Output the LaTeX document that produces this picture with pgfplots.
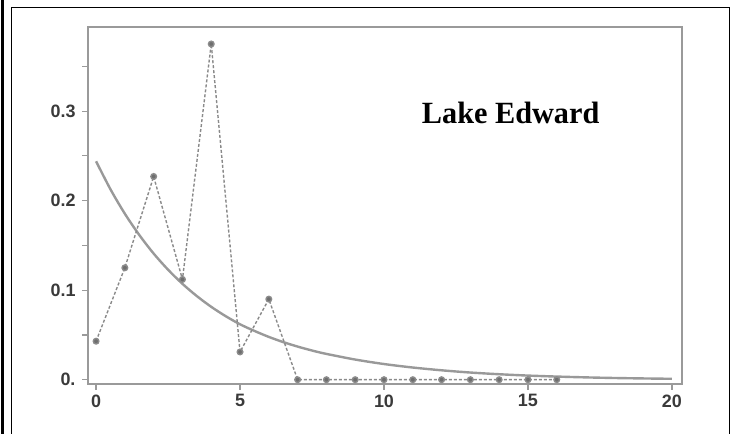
\documentclass[border=0pt]{standalone}
\usepackage{fontspec}
\setmainfont{Liberation Sans}
\newfontfamily\serifb{Liberation Serif}
\usepackage{pgfplots}
\pgfplotsset{compat=1.18}
\definecolor{axgray}{HTML}{9A9A9A}
\definecolor{curvegray}{HTML}{999999}
\definecolor{dotgray}{HTML}{8A8A8A}
\definecolor{markgray}{HTML}{6E6E6E}
\definecolor{labgray}{HTML}{3A3A3A}
\begin{document}
\begin{tikzpicture}[x=1bp,y=1bp]
\useasboundingbox (0,0) rectangle (734,434);
% frame
\draw[black,line width=2bp] (2.5,0) -- (2.5,434);
\draw[black,line width=1.6bp] (11.5,0) -- (11.5,426.5) -- (729.5,426.5) -- (729.5,0);
\begin{axis}[
  at={(88bp,50bp)}, anchor=south west,
  width=594bp, height=357bp, scale only axis,
  xmin=-0.28, xmax=20.35, ymin=-0.0048, ymax=0.394,
  axis line style={draw=axgray, line width=1.8bp},
  xtick={0,5,10,15,20},
  ytick={0,0.1,0.2,0.3},
  yticklabels={0.,0.1,0.2,0.3},
  minor ytick={0.05,0.15,0.25,0.35},
  tick pos=left,
  tick align=outside,
  major tick length=6bp,
  minor tick length=6bp,
  every tick/.style={draw=axgray, line width=1.2bp},
  /pgf/number format/assume math mode=true,
  tick label style={font=\fontsize{18}{18}\selectfont\bfseries, text=labgray},
  xticklabel style={yshift=-1bp},
  yticklabel style={xshift=-3bp},
  clip=false,
]
\addplot[curvegray, line width=2.4bp, smooth] coordinates {
 (0,0.2440) (0.5,0.2127) (1,0.1854) (1.5,0.1617) (2,0.1409) (2.5,0.1229)
 (3,0.1071) (3.5,0.0934) (4,0.0814) (4.5,0.0710) (5,0.0619) (5.5,0.0545)
 (6,0.0478) (6.5,0.0420) (7,0.0370) (7.5,0.0326) (8,0.0288) (9,0.0225)
 (10,0.0175) (11,0.0136) (12,0.0105) (13,0.0080) (14,0.0061) (15,0.0046)
 (16,0.0035) (17,0.0026) (18,0.0019) (19,0.0014) (20,0.0010)
};
\addplot[dotgray, line width=1.4bp, dash pattern=on 3bp off 2bp,
  mark=*, mark size=2.8bp,
  mark options={solid, fill=markgray, draw=markgray!80}] coordinates {
 (0,0.043) (1,0.125) (2,0.227) (3,0.112) (4,0.375) (5,0.031) (6,0.090)
 (7,0) (8,0) (9,0) (10,0) (11,0) (12,0) (13,0) (14,0) (15,0) (16,0)
};
\node[anchor=base, font=\serifb\bfseries\fontsize{31}{31}\selectfont, inner sep=0pt]
  at (axis cs:14.4,0.2857) {\scalebox{0.98}[1]{Lake Edward}};
\end{axis}
\end{tikzpicture}
\end{document}
